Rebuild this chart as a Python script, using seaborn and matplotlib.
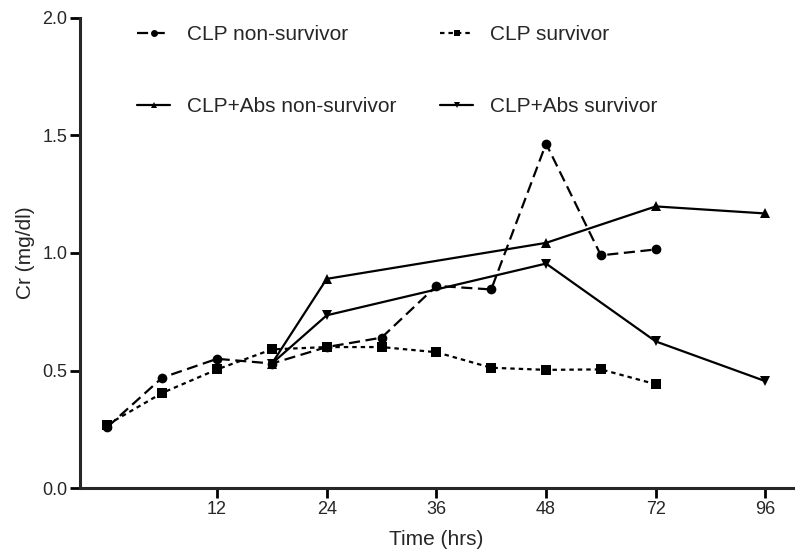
import pandas as pd
import matplotlib
matplotlib.use("Agg")
import matplotlib.pyplot as plt
import seaborn as sns

# time points (hrs) and the axis slots they sit in (84 h has no data)
slot_labels = ["0", "6", "12", "18", "24", "30", "36", "42", "48", "60", "72", "84", "96"]
tick_labels = ["12", "24", "36", "48", "72", "96"]

clp_times = [0, 6, 12, 18, 24, 30, 36, 42, 48, 60, 72]
clp_nonsurv = [0.26, 0.47, 0.55, 0.53, 0.60, 0.64, 0.86, 0.845, 1.465, 0.99, 1.015]
clp_surv = [0.27, 0.405, 0.505, 0.59, 0.60, 0.60, 0.578, 0.512, 0.503, 0.505, 0.442]

abs_times = [18, 24, 48, 72, 96]
abs_nonsurv = [0.53, 0.89, 1.043, 1.198, 1.168]
abs_surv = [0.53, 0.735, 0.955, 0.624, 0.455]

groups = ["CLP non-survivor", "CLP survivor", "CLP+Abs non-survivor", "CLP+Abs survivor"]

rows = []
for name, times, vals in [(groups[0], clp_times, clp_nonsurv),
                          (groups[1], clp_times, clp_surv),
                          (groups[2], abs_times, abs_nonsurv),
                          (groups[3], abs_times, abs_surv)]:
    for t, v in zip(times, vals):
        rows.append({"group": name, "slot": slot_labels.index(str(t)), "cr": v})
df = pd.DataFrame(rows)

sns.set_style("ticks")
plt.rcParams['font.family'] = ['Liberation Sans', 'DejaVu Sans']

fig, ax = plt.subplots(figsize=(8, 5.56), dpi=100)
fig.subplots_adjust(left=0.1, right=0.991, bottom=0.122, top=0.968)

markers = {groups[0]: "o", groups[1]: "s", groups[2]: "^", groups[3]: "v"}
dashes = {groups[0]: (5, 2.5), groups[1]: (2, 1.8), groups[2]: "", groups[3]: ""}

sns.lineplot(data=df, x="slot", y="cr", style="group", style_order=groups,
             markers=markers, dashes=dashes, color="black", linewidth=1.6,
             markersize=7, markeredgewidth=0, ax=ax, legend=True)

ax.set_xlim(-0.5, 12.5)
ax.set_ylim(0, 2.0)
ax.set_xticks([slot_labels.index(t) for t in tick_labels])
ax.set_xticklabels(tick_labels)
ax.set_yticks([0, 0.5, 1.0, 1.5, 2.0])
ax.set_yticklabels(["0.0", "0.5", "1.0", "1.5", "2.0"])
ax.tick_params(labelsize=13, width=2, length=7, pad=2, color="black")

ax.set_xlabel("Time (hrs)", fontsize=15, labelpad=9)
ax.set_ylabel("Cr (mg/dl)", fontsize=15, labelpad=5)

for s in ["left", "bottom"]:
    ax.spines[s].set_linewidth(2.2)
sns.despine(ax=ax)

handles, labels = ax.get_legend_handles_labels()
for h in handles:
    h.set_markersize(5)
order = [0, 2, 1, 3]
ax.legend([handles[i] for i in order], [labels[i] for i in order], ncol=2,
          loc="upper left", bbox_to_anchor=(0.08, 0.985), borderaxespad=0, borderpad=0,
          frameon=False, fontsize=15, handlelength=1.6, columnspacing=2.1,
          labelspacing=2.55, handletextpad=0.8)

plt.savefig("out.png", dpi=100)
